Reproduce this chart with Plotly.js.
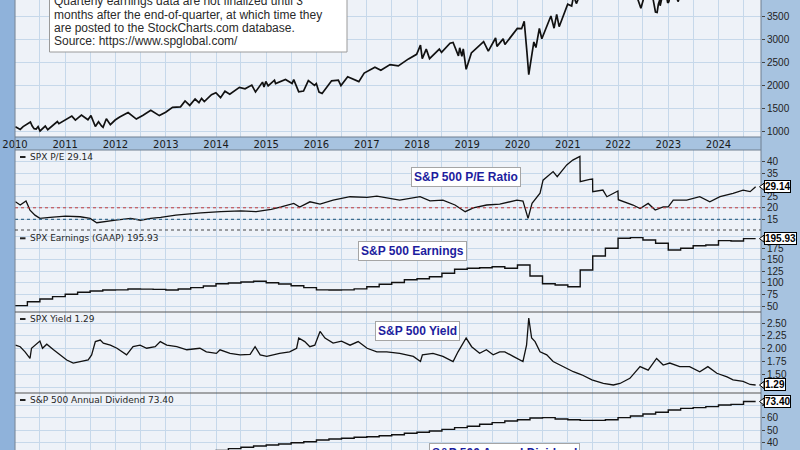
<!DOCTYPE html>
<html>
<head>
<meta charset="utf-8">
<script src="https://cdn.plot.ly/plotly-3.0.1.min.js"></script>
<style>html,body{margin:0;padding:0;background:#a7c3e0;}#chart{width:800px;height:450px;}</style>
</head>
<body>
<div id="chart"></div>
<script>
// ---------------- DATA ----------------
const priceDates = ['2010-01-04','2010-02-08','2010-03-01','2010-04-23','2010-05-06','2010-05-20','2010-06-04','2010-06-18','2010-07-02','2010-08-09','2010-08-27','2010-10-01','2010-11-05','2010-11-16','2010-12-31',
'2011-02-18','2011-03-16','2011-04-29','2011-06-15','2011-07-07','2011-08-08','2011-08-31','2011-09-22','2011-10-03','2011-10-27','2011-11-25','2011-12-30',
'2012-02-01','2012-04-02','2012-06-01','2012-07-20','2012-09-14','2012-11-15','2012-12-31',
'2013-02-19','2013-04-18','2013-05-21','2013-06-24','2013-08-02','2013-08-30','2013-09-18','2013-10-08','2013-11-29','2013-12-31',
'2014-02-03','2014-03-07','2014-04-11','2014-06-20','2014-07-31','2014-09-18','2014-10-15','2014-12-05','2014-12-16','2014-12-29',
'2015-01-15','2015-03-02','2015-03-10','2015-05-21','2015-07-08','2015-07-20','2015-08-25','2015-09-29','2015-11-03','2015-12-18','2015-12-31',
'2016-01-20','2016-02-11','2016-04-20','2016-06-08','2016-06-27','2016-08-15','2016-11-04','2016-12-13',
'2017-03-01','2017-04-13','2017-06-19','2017-08-18','2017-10-31','2017-12-29',
'2018-01-26','2018-02-08','2018-03-09','2018-04-02','2018-06-12','2018-06-28','2018-08-29','2018-09-20','2018-10-29','2018-11-07','2018-11-23','2018-12-03','2018-12-24',
'2019-01-31','2019-04-30','2019-06-03','2019-07-26','2019-08-05','2019-09-19','2019-10-02','2019-12-31',
'2020-01-31','2020-02-19','2020-03-09','2020-03-23','2020-04-29','2020-05-14','2020-06-08','2020-06-26','2020-08-31','2020-09-23','2020-10-12','2020-10-30','2020-12-31',
'2021-01-29','2021-02-12','2021-03-04','2021-04-30','2021-06-30','2021-09-02','2021-10-04','2021-12-31',
'2022-01-03','2022-02-23','2022-03-29','2022-05-20','2022-06-16','2022-07-01','2022-08-16','2022-09-30','2022-10-12','2022-10-21','2022-11-01','2022-11-03','2022-11-30','2022-12-13','2022-12-28',
'2023-01-05','2023-02-02','2023-03-13','2023-04-28','2023-07-31','2023-10-27','2023-12-29',
'2024-03-28','2024-04-19','2024-07-16','2024-08-05','2024-09-27'];
const priceVals = [1115,1056,1115,1217,1128,1071,1064,1117,1022,1127,1048,1146,1225,1178,1258,
1343,1256,1364,1265,1353,1119,1219,1129,1099,1285,1159,1258,
1324,1419,1278,1363,1466,1353,1426,
1530,1541,1669,1573,1710,1633,1725,1655,1806,1848,
1741,1878,1815,1963,1931,2011,1862,2075,1972,2090,
1992,2117,2044,2131,2047,2128,1867,1882,2109,2005,2044,
1859,1829,2102,2119,2001,2190,2085,2271,
2396,2329,2453,2426,2575,2674,
2873,2581,2786,2582,2787,2716,2914,2931,2641,2814,2633,2790,2351,
2704,2946,2744,3026,2845,3007,2887,3231,
3226,3386,2747,2237,2940,2820,3232,3009,3500,3237,3535,3270,3756,
3714,3935,3768,4181,4298,4537,4300,4766,
4797,4225,4632,3901,3667,3825,4305,3586,3577,3753,3856,3720,4080,4019,3783,
3808,4179,3810,4169,4589,4117,4770,
5254,4967,5667,5186,5738];

const peDates = ['2010-01-04','2010-02-08','2010-03-22','2010-04-20','2010-05-26','2010-07-01','2010-09-13','2011-01-03','2011-04-20','2011-07-01','2011-08-18','2011-10-27',
'2012-01-03','2012-04-20','2012-07-01','2012-09-13','2012-11-25','2013-03-15','2013-07-01','2013-09-13','2014-02-05','2014-07-01','2014-10-20',
'2015-02-06','2015-04-20','2015-07-20','2015-09-01','2015-11-15','2016-01-27','2016-05-01','2016-09-01','2017-01-03','2017-03-15','2017-08-28',
'2018-01-23','2018-04-05','2018-07-08','2018-10-04','2018-12-17','2019-02-14','2019-05-22','2019-08-25','2019-12-28',
'2020-02-10','2020-03-18','2020-04-16','2020-06-13','2020-07-05','2020-09-16','2020-10-16','2020-12-24',
'2021-02-06','2021-03-30','2021-04-01','2021-06-10','2021-06-30','2021-07-01','2021-09-13','2021-10-12','2021-12-31',
'2022-01-03','2022-04-20','2022-06-10','2022-08-08','2022-09-28','2022-11-25',
'2023-01-01','2023-02-06','2023-05-15','2023-08-18','2023-10-30','2024-01-12','2024-04-16','2024-06-28','2024-08-18','2024-09-27'];
const peVals = [22.6,21.2,23.0,19.0,16.8,15.4,15.8,16.4,16.1,15.4,13.5,13.9,
14.6,15.4,14.6,15.4,15.8,16.8,17.5,17.8,18.3,18.7,18.3,
19.3,20.4,21.9,20.3,22.6,21.6,23.3,24.8,24.5,25.1,23.3,
24.8,23.0,23.3,21.2,18.3,20.0,21.2,21.6,23.3,
22.9,15.4,21.9,26.3,32.0,35.7,33.5,38.6,
40.7,42.3,31.3,32.3,32.5,27.0,27.7,24.8,27.3,
23.5,21.2,19.7,21.9,19.0,20.4,
20.4,23.3,23.3,24.8,22.6,24.8,26.3,27.7,27.0,29.14];

const quarterDates = ['2010-01-01','2010-04-01','2010-07-01','2010-10-01','2011-01-01','2011-04-01','2011-07-01','2011-10-01',
'2012-01-01','2012-04-01','2012-07-01','2012-10-01','2013-01-01','2013-04-01','2013-07-01','2013-10-01',
'2014-01-01','2014-04-01','2014-07-01','2014-10-01','2015-01-01','2015-04-01','2015-07-01','2015-10-01',
'2016-01-01','2016-04-01','2016-07-01','2016-10-01','2017-01-01','2017-04-01','2017-07-01','2017-10-01',
'2018-01-01','2018-04-01','2018-07-01','2018-10-01','2019-01-01','2019-04-01','2019-07-01','2019-10-01',
'2020-01-01','2020-04-01','2020-07-01','2020-10-01','2021-01-01','2021-04-01','2021-07-01','2021-10-01',
'2022-01-01','2022-04-01','2022-07-01','2022-10-01','2023-01-01','2023-04-01','2023-07-01','2023-10-01',
'2024-01-01','2024-04-01','2024-07-01','2024-09-27'];
const earningsVals = [50.7,59.3,65.2,70.2,75.3,79.7,82.5,84.5,
85.0,86.8,86.5,86.0,84.7,86.8,89.7,93.3,
98.3,99.8,102.0,103.5,100.5,97.7,94.0,89.7,
85.0,84.7,85.0,87.0,91.8,97.0,100.8,107.0,
109.0,113.5,120.8,129.5,131.7,133.0,135.1,131.7,
138.8,115.0,98.3,95.5,91.8,128.0,158.3,175.0,
196.7,198.0,193.0,185.8,171.3,175.0,180.6,182.1,
191.5,190.8,195.93,195.93];
const dividendVals = [22.0,21.8,22.0,22.7,23.1,24.0,25.0,26.0,
27.0,28.3,29.5,30.2,30.8,31.5,32.2,32.9,
33.4,34.8,35.9,37.0,37.8,38.6,39.7,40.5,
41.9,42.7,43.3,44.1,44.6,45.4,46.2,47.4,
48.2,49.3,50.6,52.0,53.1,54.8,56.1,57.5,
58.5,59.9,60.2,59.1,58.5,58.0,58.0,58.5,
60.2,61.6,63.2,64.6,66.5,67.8,68.4,69.2,
70.6,71.1,73.4,73.4];

const yieldDates = ['2010-01-04','2010-02-08','2010-03-15','2010-04-20','2010-05-01','2010-05-15','2010-07-01','2010-07-20','2010-08-20','2010-10-08','2010-11-25',
'2011-01-12','2011-02-28','2011-05-01','2011-06-17','2011-07-12','2011-08-08','2011-09-13','2011-10-05','2011-11-25',
'2012-01-12','2012-03-22','2012-05-08','2012-06-28','2012-08-15','2012-10-16','2012-11-22',
'2013-01-08','2013-03-22','2013-06-03','2013-09-06','2013-10-23',
'2014-01-04','2014-01-30','2014-04-13','2014-06-25','2014-09-06','2014-10-12','2014-11-18',
'2015-01-05','2015-04-08','2015-06-20','2015-08-10','2015-08-25','2015-10-08','2015-11-14','2015-12-20',
'2016-01-27','2016-03-03','2016-05-01','2016-07-01','2016-09-01','2016-10-30',
'2017-01-03','2017-03-15','2017-05-26','2017-08-28','2017-12-05',
'2018-01-26','2018-02-09','2018-04-27','2018-07-08','2018-09-20','2018-10-26','2018-12-24',
'2019-02-02','2019-04-01','2019-05-20','2019-07-08','2019-08-25','2019-10-01','2019-12-01',
'2020-02-10','2020-03-07','2020-03-23','2020-04-13','2020-05-08','2020-06-13','2020-08-01','2020-09-16','2020-11-28',
'2021-02-10','2021-04-12','2021-06-25','2021-09-16','2021-11-28',
'2022-01-15','2022-03-28','2022-06-10','2022-08-08','2022-10-08','2022-11-25',
'2023-01-12','2023-03-25','2023-06-05','2023-08-18','2023-10-16','2023-12-20',
'2024-03-03','2024-04-16','2024-06-28','2024-08-18','2024-09-27'];
const yieldVals = [2.07,2.04,1.94,1.81,2.01,2.04,2.15,2.01,2.09,1.98,1.88,
1.78,1.72,1.75,1.78,1.88,2.14,2.17,2.11,2.07,
2.01,1.88,2.04,2.07,2.01,2.04,2.14,
2.07,2.04,1.98,2.01,1.94,
1.91,1.98,1.91,1.88,1.89,2.04,1.88,
1.85,1.91,1.94,2.01,2.21,2.14,2.04,2.07,
2.34,2.21,2.11,2.15,2.07,2.14,
2.01,1.94,1.94,1.91,1.85,
1.75,1.88,1.91,1.85,1.75,1.94,2.21,
2.04,1.91,1.98,1.88,1.94,1.94,1.85,
1.75,2.07,2.60,2.21,2.14,1.94,1.88,1.75,1.65,
1.55,1.49,1.39,1.32,1.29,
1.32,1.42,1.65,1.58,1.81,1.68,
1.72,1.65,1.65,1.55,1.65,1.52,
1.45,1.39,1.36,1.30,1.29];

const yearTicksStart = '2010-01-01';
const xRange = ['2010-01-01','2024-11-05'];
const priceTicks = [1000,1500,2000,2500,3000,3500];
const peTicks = [15,20,25,30,35,40];
const peTickText = ['15','20','25','','35','40'];
const earningsTicks = [50,75,100,125,150,175,200];
const earningsTickText = ['50','75','100','125','150','175',''];
const yieldTicks = [1.25,1.50,1.75,2.00,2.25,2.50];
const yieldTickText = ['','1.50','1.75','2.00','2.25','2.50'];
const dividendTicks = [40,50,60,70];
const dividendTickText = ['40','50','60',''];

const panelLabels = ['SPX P/E 29.14','SPX Earnings (GAAP) 195.93','SPX Yield 1.29','S&P 500 Annual Dividend 73.40'];
const boxTitles = ['S&P 500 P/E Ratio','S&P 500 Earnings','S&P 500 Yield','S&P 500 Annual Dividend'];
const lastLabels = ['29.14','195.93','1.29','73.40'];
const lastValues = [29.14,195.93,1.29,73.40];
const noteLines = ['Quarterly earnings data are not finalized until 3',
'months after the end-of-quarter, at which time they',
'are posted to the StockCharts.com database.',
'Source: https://www.spglobal.com/'];

// ---------------- LAYOUT HELPERS ----------------
const W = 800, H = 450, ML = 15, MR = 39;
const PW = W - ML - MR;
const px2x = p => (p - ML) / PW;      // pixel x -> paper x
const py2y = p => 1 - p / H;          // pixel y -> paper y
const GRID = '#c6d8ea';
const INK = '#111';

const xbase = {type:'date', range:xRange, dtick:'M12', tick0:yearTicksStart, tickformat:'%Y',
  showgrid:true, gridcolor:GRID, gridwidth:1, zeroline:false, showline:false, ticks:'',
  minor:{dtick:'M6', tick0:yearTicksStart, showgrid:true, gridcolor:GRID, gridwidth:1},
  showticklabels:false, fixedrange:true, automargin:false,
  tickfont:{family:'DejaVu Sans, Verdana, sans-serif', size:10, color:'#1a1a1a'}};
const ybase = {side:'right', showgrid:true, gridcolor:GRID, gridwidth:1, zeroline:false, showline:false,
  ticks:'outside', ticklen:3, tickcolor:'#444', fixedrange:true, automargin:false, tickmode:'array',
  tickfont:{family:'Liberation Sans, Arial, sans-serif', size:10, color:'#222'}};

const traces = [
  {x:priceDates, y:priceVals, xaxis:'x', yaxis:'y', mode:'lines', line:{color:INK, width:1.7}},
  {x:peDates, y:peVals, xaxis:'x2', yaxis:'y2', mode:'lines', line:{color:INK, width:1.3}},
  {x:quarterDates, y:earningsVals, xaxis:'x3', yaxis:'y3', mode:'lines', line:{color:INK, width:1.4, shape:'hv'}},
  {x:yieldDates, y:yieldVals, xaxis:'x4', yaxis:'y4', mode:'lines', line:{color:INK, width:1.3}},
  {x:quarterDates, y:dividendVals, xaxis:'x5', yaxis:'y5', mode:'lines', line:{color:INK, width:1.4, shape:'hv'}}
].map(t => Object.assign(t, {hoverinfo:'skip', showlegend:false}));

const dom = {
  y:[py2y(137), 1], y2:[py2y(230), py2y(150)], y3:[py2y(312), py2y(230)],
  y4:[py2y(393), py2y(312)], y5:[0, py2y(393)]
};

const layout = {
  width:W, height:H, margin:{l:ML, r:MR, t:0, b:0},
  paper_bgcolor:'#a7c3e0', plot_bgcolor:'#eef2f8', showlegend:false,
  xaxis:Object.assign({}, xbase, {anchor:'y', showticklabels:true}),
  xaxis2:Object.assign({}, xbase, {anchor:'y2', matches:'x'}),
  xaxis3:Object.assign({}, xbase, {anchor:'y3', matches:'x'}),
  xaxis4:Object.assign({}, xbase, {anchor:'y4', matches:'x'}),
  xaxis5:Object.assign({}, xbase, {anchor:'y5', matches:'x'}),
  yaxis:Object.assign({}, ybase, {anchor:'x', domain:dom.y, range:[892,3845], tickvals:priceTicks}),
  yaxis2:Object.assign({}, ybase, {anchor:'x2', domain:dom.y2, range:[10.36,45.08], tickvals:peTicks, ticktext:peTickText}),
  yaxis3:Object.assign({}, ybase, {anchor:'x3', domain:dom.y3, range:[37.0,214.6], tickvals:earningsTicks, ticktext:earningsTickText}),
  yaxis4:Object.assign({}, ybase, {anchor:'x4', domain:dom.y4, range:[1.133,2.72], tickvals:yieldTicks, ticktext:yieldTickText}),
  yaxis5:Object.assign({}, ybase, {anchor:'x5', domain:dom.y5, range:[33.7,80.4], tickvals:dividendTicks, ticktext:dividendTickText}),
  shapes:[], annotations:[]
};

const S = layout.shapes, A = layout.annotations;
// left darker strip
S.push({type:'rect', xref:'paper', yref:'paper', x0:px2x(0), x1:px2x(14.5), y0:-0.01, y1:1.01, fillcolor:'#8fb2da', line:{width:0}, layer:'below'});
// reference lines on P/E
S.push({type:'line', xref:'x2 domain', yref:'y2', x0:0, x1:1, y0:20, y1:20, line:{color:'#c0393b', width:1, dash:'dot'}});
S.push({type:'line', xref:'x2 domain', yref:'y2', x0:0, x1:1, y0:15, y1:15, line:{color:'#3d6d8e', width:1.2, dash:'dot'}});
// panel borders
const borderCol = '#6f7f90';
S.push({type:'line', xref:'paper', yref:'paper', x0:0, x1:0, y0:0, y1:1, line:{color:borderCol, width:1}});
S.push({type:'line', xref:'paper', yref:'paper', x0:1, x1:1, y0:0, y1:1, line:{color:borderCol, width:1}});
S.push({type:'line', xref:'paper', yref:'paper', x0:0, x1:1, y0:dom.y[0], y1:dom.y[0], line:{color:borderCol, width:1}});
S.push({type:'line', xref:'paper', yref:'paper', x0:0, x1:1, y0:dom.y2[1], y1:dom.y2[1], line:{color:borderCol, width:1}});
S.push({type:'line', xref:'paper', yref:'paper', x0:0, x1:1, y0:dom.y2[0], y1:dom.y2[0], line:{color:'#444', width:1, dash:'dot'}});
S.push({type:'line', xref:'paper', yref:'paper', x0:0, x1:1, y0:dom.y3[0], y1:dom.y3[0], line:{color:'#555', width:1}});
S.push({type:'line', xref:'paper', yref:'paper', x0:0, x1:1, y0:dom.y4[0], y1:dom.y4[0], line:{color:'#555', width:1}});

// note box at top
S.push({type:'rect', xref:'paper', yref:'paper', x0:px2x(49.5), x1:px2x(347), y0:py2y(52), y1:1.05, fillcolor:'#ffffff', line:{color:'#9a9a9a', width:1}});
const noteY = [1.5, 14.8, 28.2, 41.5];
noteLines.forEach((t,i) => A.push({xref:'paper', yref:'paper', x:px2x(52), y:py2y(noteY[i]), xanchor:'left', yanchor:'middle',
  text:t, showarrow:false, font:{family:'Liberation Sans, Arial, sans-serif', size:12, color:'#2a2a2a'}}));

// panel labels (top-left) with dash marks
const labelY = [157, 238.3, 319, 400];
panelLabels.forEach((t,i) => {
  S.push({type:'line', xref:'paper', yref:'paper', x0:px2x(20), x1:px2x(25.5), y0:py2y(labelY[i]), y1:py2y(labelY[i]), line:{color:'#222', width:2}});
  A.push({xref:'paper', yref:'paper', x:px2x(28), y:py2y(labelY[i]), xanchor:'left', yanchor:'middle', text:t, showarrow:false,
    font:{family:'DejaVu Sans, Verdana, sans-serif', size:9, color:'#262626'}});
});

// blue title boxes
const boxPos = [[466,177.5,'middle'],[412,250.5,'middle'],[417,330.5,'middle'],[504.5,443,'top']];
boxTitles.forEach((t,i) => A.push({xref:'paper', yref:'paper', x:px2x(boxPos[i][0]), y:py2y(boxPos[i][1]), xanchor:'center', yanchor:boxPos[i][2],
  text:'<b>'+t+'</b>', showarrow:false, bgcolor:'#ffffff', bordercolor:'#a5a5a5', borderwidth:1, borderpad:2,
  font:{family:'Liberation Sans, Arial, sans-serif', size:12, color:'#1d1d9e'}}));

// last-value boxes on the right axis
const yrefs = ['y2','y3','y4','y5'];
const pxPerUnit = [2.304, 0.4616, 51, 1.22];
lastLabels.forEach((t,i) => {
  const h = 3.5 / pxPerUnit[i];
  const v = lastValues[i];
  S.push({type:'path', xref:'paper', yref:yrefs[i],
    path:`M ${px2x(759.5)} ${v} L ${px2x(764)} ${v+h} L ${px2x(764)} ${v-h} Z`, fillcolor:'#ffffff', line:{color:'#000', width:1}});
  A.push({xref:'paper', yref:yrefs[i], x:px2x(763.5), y:v, xanchor:'left', yanchor:'middle', text:'<b>'+t+'</b>', showarrow:false,
    bgcolor:'#ffffff', bordercolor:'#000', borderwidth:1, borderpad:0,
    font:{family:'Liberation Sans, Arial, sans-serif', size:10, color:'#000'}});
});

Plotly.newPlot('chart', traces, layout, {staticPlot:true, displayModeBar:false});
</script>
</body>
</html>
